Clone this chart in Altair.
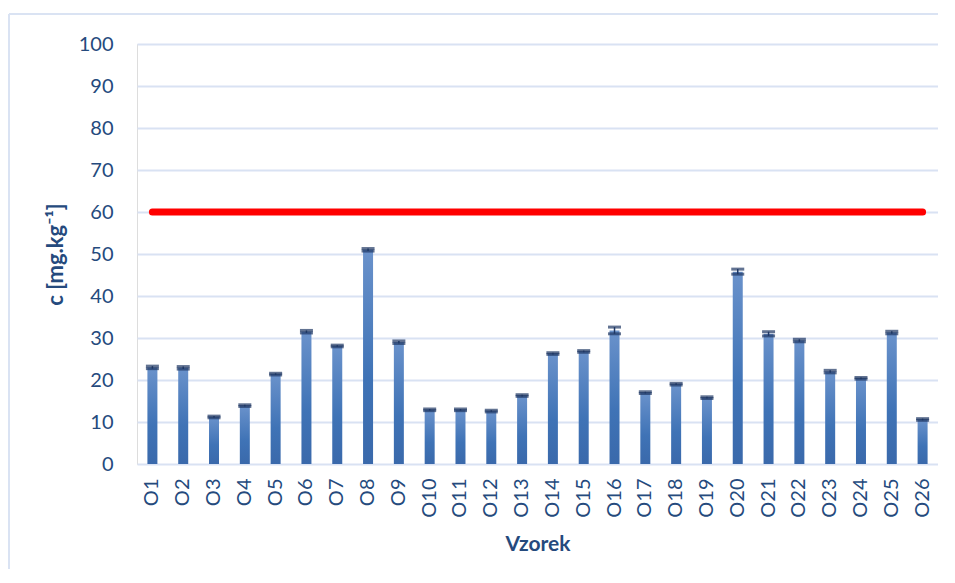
import altair as alt
import pandas as pd

samples = [f"O{i}" for i in range(1, 27)]
values = [23.0, 22.9, 11.2, 13.9, 21.4, 31.5, 28.1, 51.0, 29.0, 12.9, 12.9, 12.6, 16.3,
          26.3, 26.8, 31.8, 17.0, 19.0, 15.8, 45.8, 31.0, 29.4, 22.0, 20.4, 31.3, 10.6]
errors = [0.3, 0.3, 0.2, 0.2, 0.2, 0.3, 0.2, 0.3, 0.3, 0.2, 0.2, 0.2, 0.2,
          0.2, 0.2, 0.8, 0.2, 0.2, 0.2, 0.6, 0.5, 0.3, 0.3, 0.2, 0.3, 0.2]
limit = 60

df = pd.DataFrame({"Vzorek": samples, "c": values, "err": errors})
df["hi"] = df["c"] + df["err"]
df["lo"] = df["c"] - df["err"]
df["limit"] = limit

TXT = "#254a7d"
FONT = "Lato"

x = alt.X("Vzorek:N", sort=samples,
          scale=alt.Scale(paddingInner=0, paddingOuter=0),
          axis=alt.Axis(title="Vzorek", labelAngle=-90, labelFontSize=20, labelColor=TXT,
                        labelFont=FONT, titleFont=FONT, titleFontSize=21, titleColor=TXT,
                        titleFontWeight="bold", labelPadding=14, titlePadding=16,
                        ticks=False, domain=False, grid=False))
y = alt.Y("c:Q", scale=alt.Scale(domain=[0, 100]),
          axis=alt.Axis(title="c [mg.kg⁻¹]", values=list(range(0, 101, 10)), labelFontSize=20,
                        labelColor=TXT, labelFont=FONT, titleFont=FONT, titleFontSize=22,
                        titleColor=TXT, titleFontWeight="bold", labelPadding=24,
                        titlePadding=11, ticks=False, domain=False, grid=True,
                        gridColor="#d9e2f3", gridWidth=2))

base = alt.Chart(df)

bars = base.mark_bar(size=10, color=alt.Gradient(
    gradient="linear", x1=0, y1=0, x2=0, y2=1,
    stops=[alt.GradientStop(color="#6a92cb", offset=0),
           alt.GradientStop(color="#3f73b6", offset=0.6),
           alt.GradientStop(color="#3a69ab", offset=1)])).encode(x=x, y=y)

stem = base.mark_rule(color="#1f3864", strokeWidth=1.5).encode(
    x=alt.X("Vzorek:N", sort=samples), y="lo:Q", y2="hi:Q")
cap_hi = base.mark_tick(color="#1f3864", thickness=3, size=13, orient="horizontal").encode(
    x=alt.X("Vzorek:N", sort=samples), y="hi:Q")
cap_lo = base.mark_tick(color="#1f3864", thickness=3, size=13, orient="horizontal").encode(
    x=alt.X("Vzorek:N", sort=samples), y="lo:Q")

line = base.mark_line(color="#ff0000", strokeWidth=7, strokeCap="round").encode(
    x=alt.X("Vzorek:N", sort=samples), y="limit:Q")

frame_top = alt.Chart(pd.DataFrame({"a": [0]})).mark_rule(color="#dae3f3", strokeWidth=2).encode(
    x=alt.value(-128), x2=alt.value(830), y=alt.value(-30))
frame_left = alt.Chart(pd.DataFrame({"a": [0]})).mark_rule(color="#dae3f3", strokeWidth=2).encode(
    x=alt.value(-128), y=alt.value(-30), y2=alt.value(560))

chart = alt.layer(frame_top, frame_left, bars, stem, cap_hi, cap_lo, line).properties(
    width=801, height=420,
    autosize=alt.AutoSizeParams(type="none"),
    padding={"left": 129, "top": 36, "right": 0, "bottom": 105},
).configure_view(stroke=None).configure(background="white")

chart.save("out.html", embed_options={"renderer": "svg", "actions": False})
